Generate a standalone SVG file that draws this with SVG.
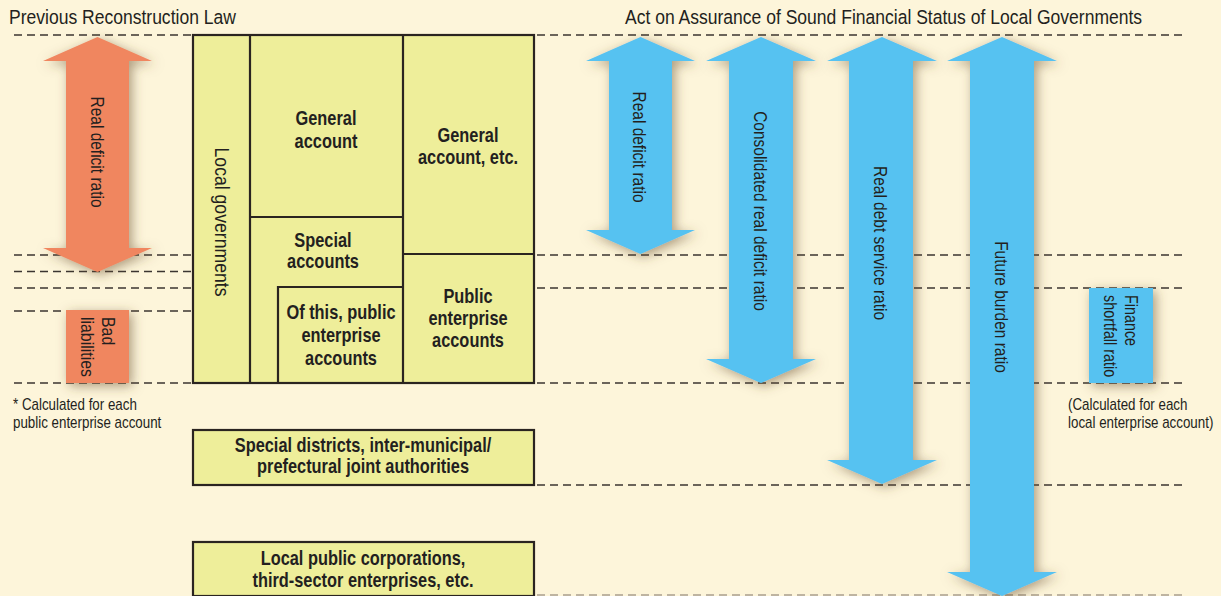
<svg xmlns="http://www.w3.org/2000/svg" width="1221" height="596" viewBox="0 0 1221 596">
<defs>
<style>
.t{font-family:"Liberation Sans",Arial,sans-serif;fill:#231f20;}
.title{font-size:20.5px;}
.lbl{font-size:19.5px;font-weight:bold;text-anchor:middle;}
.vt{font-size:19px;text-anchor:middle;}
.note{font-size:16px;}
.dash{stroke:#3b3530;stroke-width:1.6;stroke-dasharray:8 5;fill:none;}
.box{fill:#eeee9a;stroke:#2a2420;stroke-width:2.2;}
.ln{stroke:#2a2420;stroke-width:2.2;fill:none;}
.or{fill:#f0865f;}
.bl{fill:#56c2f1;}
</style>
<filter id="sh" x="-60%" y="-20%" width="220%" height="140%">
<feDropShadow dx="3" dy="3" stdDeviation="6" flood-color="#6b5030" flood-opacity="0.55"/>
</filter>
</defs>
<rect width="1221" height="596" fill="#fdf5da"/>

<g id="guides">
<path class="dash" d="M14,35H192M14,255H192M14,271.5H192M14,288H192M14,311H192M14,383H192"/>
<path class="dash" d="M537,35H1184M537,255H1184M537,288H1184M537,383H1184M537,485H1184"/>
<path class="dash" d="M537,595H1184" style="stroke:#a99f8f"/>
</g>

<text class="t title" transform="translate(9,24) scale(0.855,1)">Previous Reconstruction Law</text>
<text class="t title" transform="translate(625,24) scale(0.855,1)">Act on Assurance of Sound Financial Status of Local Governments</text>

<g id="local-governments">
<rect class="box" x="193" y="35" width="341" height="348"/>
<path class="ln" d="M250,35V383M403,35V383M250,217H403M403,254H534M278,383V287H403"/>
<text class="t vt" transform="translate(222,222) rotate(90) scale(0.86,1)" y="7" style="font-size:20.5px">Local governments</text>
<text class="t lbl" transform="translate(326,125) scale(0.84,1)">General</text>
<text class="t lbl" transform="translate(326,148) scale(0.84,1)">account</text>
<text class="t lbl" transform="translate(468,142) scale(0.84,1)">General</text>
<text class="t lbl" transform="translate(468,164) scale(0.84,1)">account, etc.</text>
<text class="t lbl" transform="translate(323,247) scale(0.84,1)">Special</text>
<text class="t lbl" transform="translate(323,268) scale(0.84,1)">accounts</text>
<text class="t lbl" transform="translate(341,319) scale(0.84,1)">Of this, public</text>
<text class="t lbl" transform="translate(341,342) scale(0.84,1)">enterprise</text>
<text class="t lbl" transform="translate(341,365) scale(0.84,1)">accounts</text>
<text class="t lbl" transform="translate(468,303) scale(0.84,1)">Public</text>
<text class="t lbl" transform="translate(468,325) scale(0.84,1)">enterprise</text>
<text class="t lbl" transform="translate(468,347) scale(0.84,1)">accounts</text>
</g>

<g id="special-districts">
<rect class="box" x="193" y="430" width="341" height="55"/>
<text class="t lbl" transform="translate(363,452) scale(0.84,1)">Special districts, inter-municipal/</text>
<text class="t lbl" transform="translate(363,473) scale(0.84,1)">prefectural joint authorities</text>
</g>

<g id="local-public-corporations">
<rect class="box" x="193" y="542" width="341" height="54"/>
<text class="t lbl" transform="translate(363,565) scale(0.84,1)">Local public corporations,</text>
<text class="t lbl" transform="translate(363,587) scale(0.84,1)">third-sector enterprises, etc.</text>
</g>

<g id="old-real-deficit-ratio">
<path class="or" filter="url(#sh)" d="M97.5,37L152,61H129V248H152L97.5,272L43,248H66V61H43Z"/>
<text class="t vt" transform="translate(98,152) rotate(90) scale(0.815,1)" y="6.5">Real deficit ratio</text>
</g>

<g id="bad-liabilities">
<rect class="or" filter="url(#sh)" x="66" y="310" width="63" height="73"/>
<g transform="translate(102,317) rotate(90) scale(0.835,1)">
<text class="t" style="font-size:19px" x="0" y="0">Bad</text>
<text class="t" style="font-size:19px" x="0" y="21">liabilities</text>
</g>
</g>
<text class="t note" transform="translate(13,410) scale(0.835,1)">* Calculated for each</text>
<text class="t note" transform="translate(13,428) scale(0.835,1)">public enterprise account</text>

<g id="real-deficit-ratio">
<path class="bl" filter="url(#sh)" d="M640.5,37L695,61H672V230H695L640.5,254L586,230H609V61H586Z"/>
<text class="t vt" transform="translate(640,147) rotate(90) scale(0.815,1)" y="6.5">Real deficit ratio</text>
</g>

<g id="consolidated-real-deficit-ratio">
<path class="bl" filter="url(#sh)" d="M761,37L816,61H793V359H816L761,383L706,359H729V61H706Z"/>
<text class="t vt" transform="translate(761,211) rotate(90) scale(0.815,1)" y="6.5">Consolidated real deficit ratio</text>
</g>

<g id="real-debt-service-ratio">
<path class="bl" filter="url(#sh)" d="M882,37L937,61H913V460H937L882,484L827,460H849V61H827Z"/>
<text class="t vt" transform="translate(881,243) rotate(90) scale(0.815,1)" y="6.5">Real debt service ratio</text>
</g>

<g id="future-burden-ratio">
<path class="bl" filter="url(#sh)" d="M1002,37L1057,61H1034V572H1057L1002,596L947,572H970V61H947Z"/>
<text class="t vt" transform="translate(1002,307) rotate(90) scale(0.815,1)" y="6.5">Future burden ratio</text>
</g>

<g id="finance-shortfall-ratio">
<rect class="bl" filter="url(#sh)" x="1089" y="288" width="64" height="95"/>
<g transform="translate(1125,295) rotate(90) scale(0.82,1)">
<text class="t" style="font-size:17.5px" x="0" y="0">Finance</text>
<text class="t" style="font-size:17.5px" x="0" y="21">shortfall ratio</text>
</g>
</g>
<text class="t note" transform="translate(1068,410) scale(0.835,1)">(Calculated for each</text>
<text class="t note" transform="translate(1068,428) scale(0.835,1)">local enterprise account)</text>
</svg>
